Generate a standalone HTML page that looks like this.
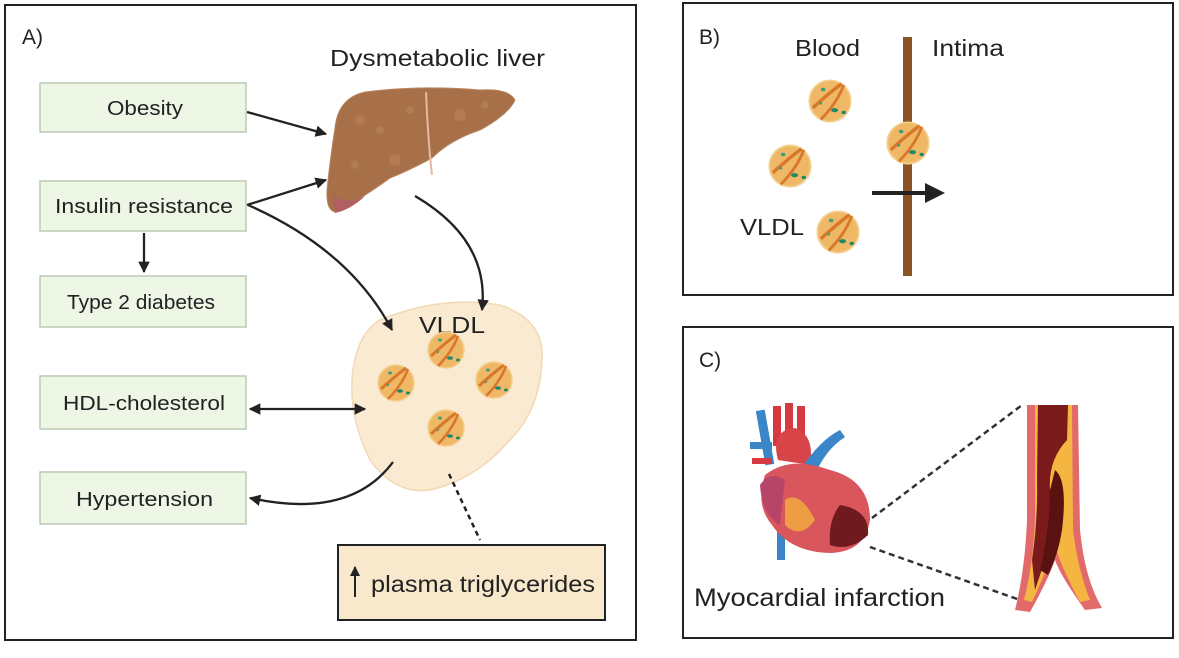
<!DOCTYPE html>
<html><head><meta charset="utf-8"><style>
body{margin:0;background:#fff;}
svg{display:block;font-family:"Liberation Sans",sans-serif;}
</style></head><body>
<svg width="1179" height="658" viewBox="0 0 1179 658" xmlns="http://www.w3.org/2000/svg">
<defs>
<marker id="ah" viewBox="0 0 10 10" refX="9" refY="5" markerWidth="5" markerHeight="5" orient="auto-start-reverse"><path d="M0,0 L10,5 L0,10 z" fill="#222"/></marker>
<g id="p">
<circle r="18" fill="#eeb866" stroke="#f4cf8e" stroke-width="1.5"/>
<path d="M-15,6 Q-2,-6 10,-15" stroke="#d9772a" stroke-width="3" fill="none"/>
<path d="M-8,16 Q6,2 12,-14" stroke="#d9772a" stroke-width="2.5" fill="none"/>
<ellipse cx="4" cy="8" rx="3" ry="1.8" fill="#1f8a6a"/>
<ellipse cx="-6" cy="-10" rx="2" ry="1.5" fill="#3aa07a"/>
<ellipse cx="12" cy="10" rx="2" ry="1.5" fill="#1f8a6a"/>
<circle cx="-8" cy="2" r="1.2" fill="#3aa07a"/>
</g>
</defs>

<!-- Panel A -->
<rect x="5" y="5" width="631" height="635" fill="#fff" stroke="#222" stroke-width="2"/>
<text x="22" y="44" font-size="21" fill="#222">A)</text>
<text x="330" y="66" font-size="23" fill="#222" textLength="215" lengthAdjust="spacingAndGlyphs">Dysmetabolic liver</text>
<g font-size="20" fill="#222">
<rect x="40" y="83" width="206" height="49" fill="#eef6e6" stroke="#bccab4" stroke-width="1.5"/><text x="107" y="115" textLength="76" lengthAdjust="spacingAndGlyphs">Obesity</text>
<rect x="40" y="181" width="206" height="50" fill="#eef6e6" stroke="#bccab4" stroke-width="1.5"/><text x="55" y="213" textLength="178" lengthAdjust="spacingAndGlyphs">Insulin resistance</text>
<rect x="40" y="276" width="206" height="51" fill="#eef6e6" stroke="#bccab4" stroke-width="1.5"/><text x="67" y="309" textLength="148" lengthAdjust="spacingAndGlyphs">Type 2 diabetes</text>
<rect x="40" y="376" width="206" height="53" fill="#eef6e6" stroke="#bccab4" stroke-width="1.5"/><text x="63" y="410" textLength="162" lengthAdjust="spacingAndGlyphs">HDL-cholesterol</text>
<rect x="40" y="472" width="206" height="52" fill="#eef6e6" stroke="#bccab4" stroke-width="1.5"/><text x="76" y="506" textLength="137" lengthAdjust="spacingAndGlyphs">Hypertension</text>
</g>
<!-- liver -->
<path d="M335,128 Q338,98 365,92 Q420,85 480,90 Q508,88 515,100 Q508,115 480,130 Q450,140 432,158 Q410,170 390,178 Q360,200 335,212 Q326,210 327,190 Q330,160 335,128 Z" fill="#a77048" stroke="#b78760" stroke-width="1"/>
<path d="M333,195 Q345,205 365,196 Q350,210 335,213 Z" fill="#b06060"/>
<path d="M426,92 Q428,140 432,175" stroke="#e6b9a0" stroke-width="2" fill="none"/>
<g fill="#b88058" opacity="0.7"><circle cx="360" cy="120" r="5"/><circle cx="395" cy="160" r="6"/><circle cx="380" cy="130" r="4"/><circle cx="460" cy="115" r="6"/><circle cx="410" cy="110" r="4"/><circle cx="355" cy="165" r="4"/><circle cx="485" cy="105" r="4"/></g>
<!-- VLDL blob -->
<path d="M380,320 Q440,295 500,305 Q545,320 542,360 Q540,410 510,440 Q475,480 430,490 Q395,495 370,460 Q350,420 352,380 Q355,335 380,320 Z" fill="#faead2" stroke="#f2d9b4" stroke-width="1.5"/>
<!-- arrows -->
<g stroke="#222" stroke-width="2.3" fill="none" marker-end="url(#ah)">
<line x1="247" y1="112" x2="326" y2="134"/>
<line x1="247" y1="205" x2="326" y2="180"/>
<line x1="144" y1="233" x2="144" y2="272"/>
<path d="M415,196 Q490,240 482,310"/>
<path d="M248,205 Q350,250 392,330"/>
<line x1="250" y1="409" x2="365" y2="409" marker-start="url(#ah)"/>
<path d="M393,462 Q350,520 250,498"/>
</g>
<text x="419" y="333" font-size="23" fill="#222" textLength="66" lengthAdjust="spacingAndGlyphs">VLDL</text>
<use href="#p" x="446" y="350"/><use href="#p" x="396" y="383"/><use href="#p" x="494" y="380"/><use href="#p" x="446" y="428"/>
<line x1="449" y1="474" x2="480" y2="540" stroke="#222" stroke-width="2.5" stroke-dasharray="5,4"/>
<rect x="338" y="545" width="267" height="75" fill="#f8e8cc" stroke="#222" stroke-width="2"/>
<line x1="355" y1="597" x2="355" y2="567" stroke="#222" stroke-width="2" marker-end="url(#ah)"/>
<text x="371" y="592" font-size="23" fill="#222" textLength="224" lengthAdjust="spacingAndGlyphs">plasma triglycerides</text>

<!-- Panel B -->
<rect x="683" y="3" width="490" height="292" fill="#fff" stroke="#222" stroke-width="2"/>
<text x="699" y="44" font-size="21" fill="#222">B)</text>
<text x="795" y="56" font-size="23" fill="#222" textLength="65" lengthAdjust="spacingAndGlyphs">Blood</text>
<text x="932" y="56" font-size="23" fill="#222" textLength="72" lengthAdjust="spacingAndGlyphs">Intima</text>
<text x="740" y="235" font-size="23" fill="#222" textLength="64" lengthAdjust="spacingAndGlyphs">VLDL</text>
<rect x="903" y="37" width="9" height="239" fill="#8b5424"/>
<use href="#p" transform="translate(830,101) scale(1.15)"/>
<use href="#p" transform="translate(790,166) scale(1.15)"/>
<use href="#p" transform="translate(908,143) scale(1.15)"/>
<use href="#p" transform="translate(838,232) scale(1.15)"/>
<line x1="872" y1="193" x2="925" y2="193" stroke="#222" stroke-width="4"/>
<path d="M925,183 L945,193 L925,203 Z" fill="#222"/>

<!-- Panel C -->
<rect x="683" y="327" width="490" height="311" fill="#fff" stroke="#222" stroke-width="2"/>
<text x="699" y="367" font-size="21" fill="#222">C)</text>
<text x="694" y="606" font-size="25" fill="#222" textLength="251" lengthAdjust="spacingAndGlyphs">Myocardial infarction</text>
<!-- heart -->
<g>
<rect x="761" y="410" width="9" height="55" fill="#3a86c8" transform="rotate(-10 765 440)"/>
<rect x="773" y="406" width="8" height="40" fill="#d63a40"/><rect x="785" y="403" width="8" height="40" fill="#d63a40"/><rect x="797" y="406" width="8" height="40" fill="#d63a40"/>
<path d="M778,460 Q770,430 795,428 Q815,435 810,465 Z" fill="#d84548"/>
<path d="M800,470 Q820,440 840,430 L845,437 Q825,450 815,475 Z" fill="#3a86c8"/>
<rect x="750" y="442" width="22" height="7" fill="#3a86c8"/><rect x="752" y="458" width="20" height="6" fill="#d63a40"/>
<rect x="777" y="525" width="8" height="35" fill="#3a86c8"/>
<path d="M765,475 Q790,455 830,470 Q870,480 870,520 Q865,552 830,553 Q790,552 772,525 Q755,505 765,475 Z" fill="#d9565c"/>
<path d="M760,485 Q770,470 785,480 L780,525 Q762,515 760,485 Z" fill="#b7456a"/>
<path d="M785,500 Q800,490 815,520 Q800,540 785,525 Z" fill="#f2b03c" opacity="0.8"/>
<path d="M840,505 Q870,510 868,535 Q850,552 830,545 Q828,520 840,505 Z" fill="#6e1a1e"/>
</g>
<line x1="872" y1="518" x2="1022" y2="405" stroke="#333" stroke-width="2.5" stroke-dasharray="6,4"/>
<line x1="870" y1="547" x2="1020" y2="600" stroke="#333" stroke-width="2.5" stroke-dasharray="6,4"/>
<!-- artery -->
<path d="M1027,405 L1078,405 L1080,530 Q1085,580 1102,608 L1085,610 Q1060,575 1055,560 Q1048,580 1030,612 L1015,610 Q1025,570 1027,520 Z" fill="#e26a6a"/>
<path d="M1035,405 L1072,405 L1073,530 Q1078,570 1090,600 L1080,602 Q1060,565 1055,545 Q1045,575 1032,602 L1024,600 Q1033,565 1035,520 Z" fill="#f4b640"/>
<path d="M1038,405 L1068,405 L1067,440 Q1048,460 1050,490 Q1055,520 1045,560 L1035,590 L1032,560 Q1038,520 1037,480 Z" fill="#7a1a1a"/>
<path d="M1055,470 Q1068,480 1062,530 Q1058,555 1048,575 L1040,570 Q1050,530 1050,490 Z" fill="#5a1210"/>
</svg>
</body></html>
